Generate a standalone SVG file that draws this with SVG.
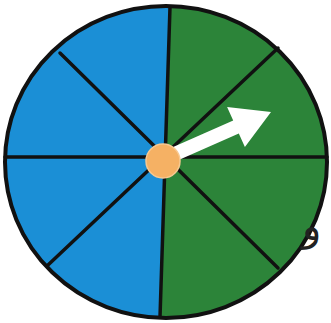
<svg xmlns="http://www.w3.org/2000/svg" width="331" height="323" viewBox="0 0 331 323">
<defs>
<style>
.div{stroke:#111;stroke-width:3.5;stroke-linecap:round}
.rim{fill:none;stroke:#111;stroke-width:4}
</style>
<clipPath id="disc"><ellipse cx="166" cy="162" rx="161" ry="156"/></clipPath>
</defs>
<rect width="331" height="323" fill="#ffffff"/>
<g id="wheel">
<ellipse cx="166" cy="162" rx="161" ry="156" fill="#1b8fd6"/>
<polygon clip-path="url(#disc)" points="170.2,0 331,0 331,323 159.8,323" fill="#2c8439"/>
</g>
<g id="connectors">
<line class="div" x1="170" y1="7" x2="160" y2="317"/>
<line class="div" x1="5" y1="157" x2="327" y2="157"/>
<line class="div" x1="60" y1="53" x2="278" y2="268"/>
<line class="div" x1="278" y1="48" x2="48" y2="265"/>
<ellipse class="rim" cx="166" cy="162" rx="161" ry="156"/>
</g>
<g id="arrow">
<polygon points="165.2,150.6 233.2,120.6 227.1,106.9 271,112 244.9,147.1 238.8,133.4 170.8,163.4" fill="#ffffff"/>
</g>
<g id="hub">
<circle cx="163" cy="161" r="17" fill="#f5b164" stroke="#f8c890" stroke-width="1.5"/>
</g>
<text x="302" y="240" font-family="'DejaVu Sans', sans-serif" font-size="40" fill="#222">و</text>
</svg>
